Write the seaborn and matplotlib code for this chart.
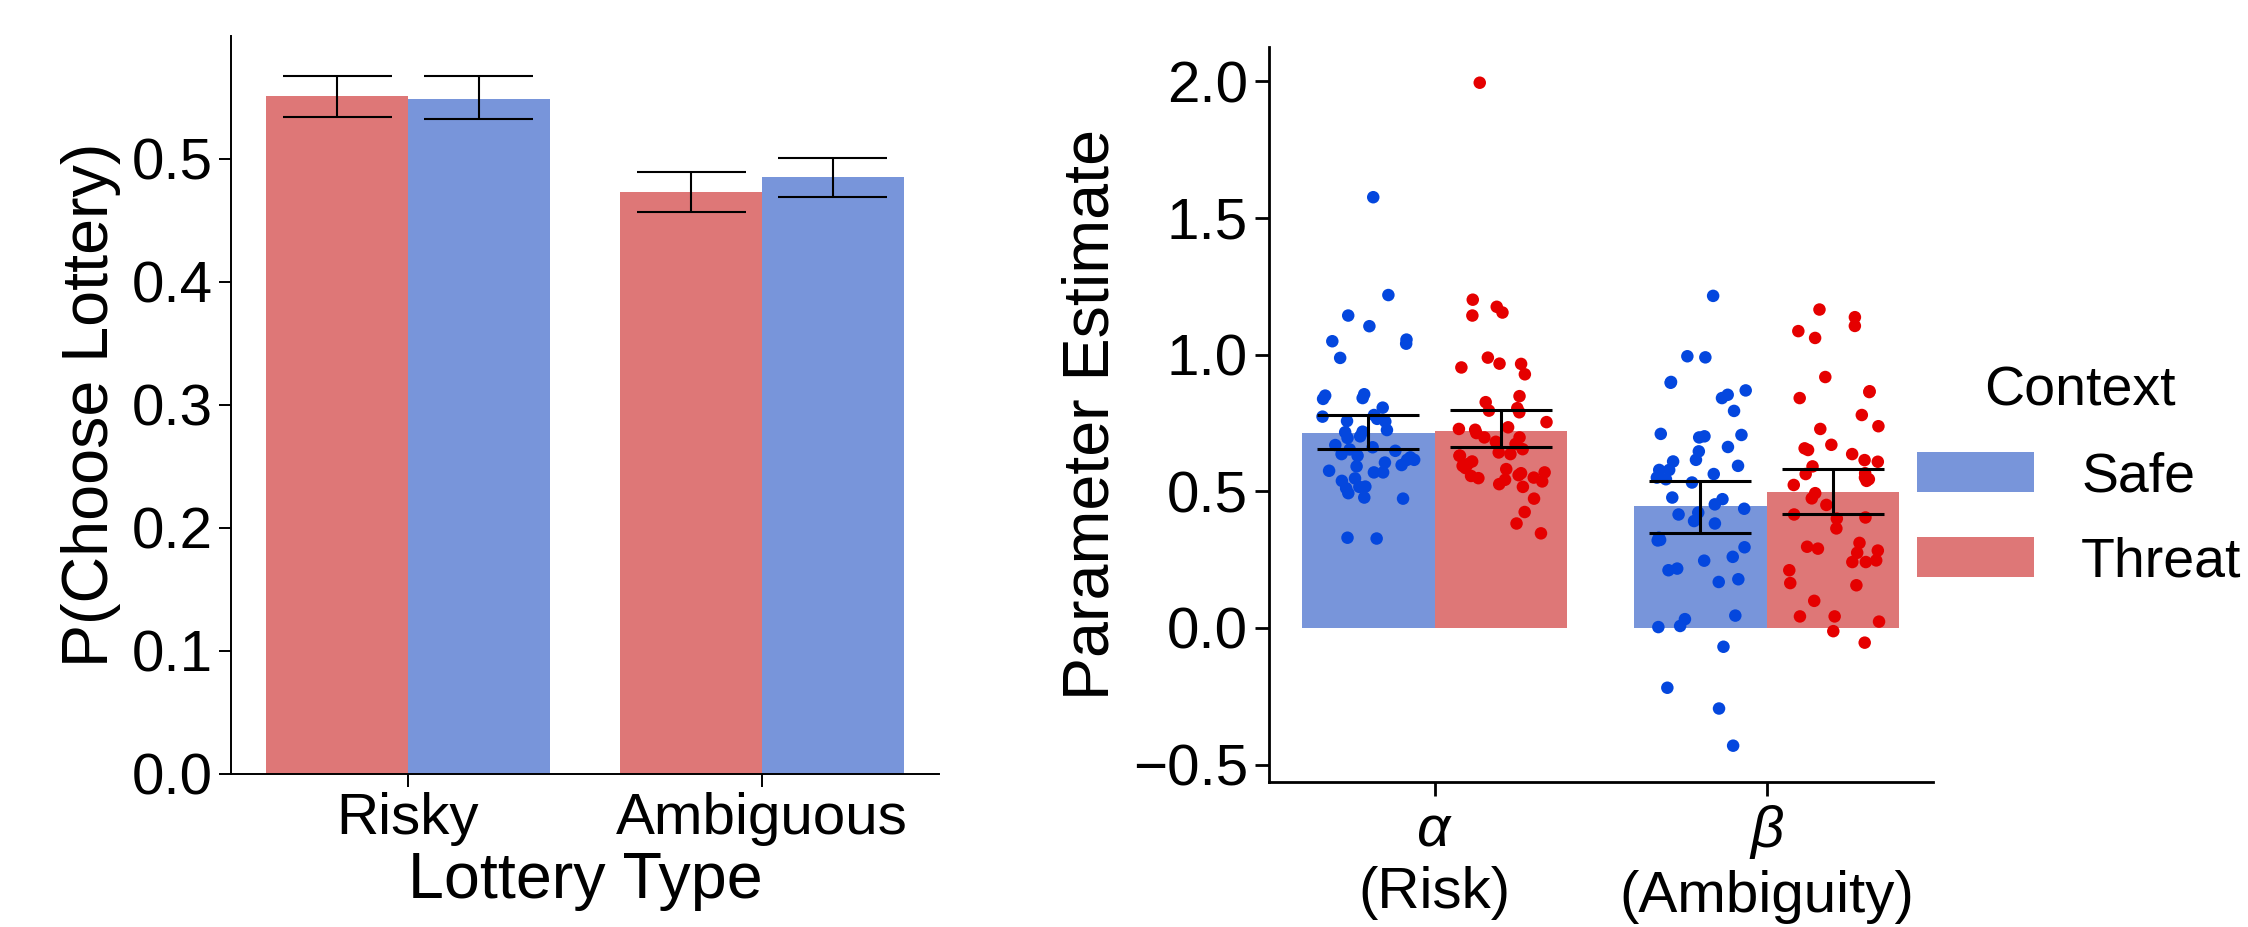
import numpy as np
import pandas as pd
import seaborn as sns
import matplotlib.pyplot as plt

# left panel: P(choose lottery) by lottery type and context
lottery_types = ["Risky", "Ambiguous"]
left_contexts = ["Threat", "Safe"]
choice_mean = {"Threat": [0.551, 0.473], "Safe": [0.549, 0.485]}
choice_lo = {"Threat": [0.534, 0.457], "Safe": [0.532, 0.469]}
choice_hi = {"Threat": [0.567, 0.489], "Safe": [0.567, 0.501]}

# right panel: parameter estimates
params = ["alpha", "beta"]
param_labels = ["$\\alpha$\n(Risk)", "$\\beta$\n(Ambiguity)"]
right_contexts = ["Safe", "Threat"]
param_mean = {"Safe": [0.713, 0.447], "Threat": [0.721, 0.496]}
param_lo = {"Safe": [0.653, 0.349], "Threat": [0.661, 0.418]}
param_hi = {"Safe": [0.780, 0.538], "Threat": [0.799, 0.581]}

alpha_safe_pts = [1.576, 1.218, 1.143, 1.104, 1.040, 1.055, 1.049, 0.988,
                  0.850, 0.841, 0.838, 0.855, 0.806, 0.757, 0.755, 0.765, 0.773, 0.779,
                  0.716, 0.701, 0.695, 0.724, 0.718, 0.669, 0.661, 0.648, 0.653, 0.636,
                  0.630, 0.624, 0.615, 0.605, 0.615, 0.596, 0.591, 0.575, 0.569, 0.569,
                  0.547, 0.538, 0.516, 0.517, 0.511, 0.493, 0.477, 0.473, 0.327, 0.330]
alpha_threat_pts = [1.995, 1.175, 1.201, 1.143, 1.154, 0.953, 0.967, 0.989, 0.966, 0.928,
                    0.848, 0.789, 0.795, 0.804, 0.826, 0.734, 0.697, 0.681, 0.728, 0.713,
                    0.753, 0.725, 0.697, 0.673, 0.654, 0.642, 0.636, 0.630, 0.630, 0.609,
                    0.599, 0.593, 0.585, 0.581, 0.556, 0.569, 0.559, 0.542, 0.566, 0.548,
                    0.536, 0.550, 0.516, 0.526, 0.473, 0.424, 0.382, 0.346]
beta_safe_pts = [1.215, 0.994, 0.990, 0.900, 0.897, 0.841, 0.853, 0.869, 0.794, 0.701,
                 0.710, 0.697, 0.706, 0.662, 0.646, 0.615, 0.609, 0.578, 0.578, 0.593,
                 0.563, 0.544, 0.532, 0.550, 0.477, 0.471, 0.452, 0.422, 0.415, 0.382,
                 0.436, 0.391, 0.330, 0.320, 0.322, 0.295, 0.246, 0.260, 0.211, 0.217,
                 0.168, 0.178, 0.032, 0.003, 0.045, 0.007, -0.069, -0.219, -0.295, -0.431]
beta_threat_pts = [1.137, 1.165, 1.105, 1.086, 1.061, 0.918, 0.863, 0.841, 0.866, 0.779,
                   0.738, 0.728, 0.657, 0.651, 0.614, 0.608, 0.636, 0.670, 0.591, 0.566,
                   0.544, 0.523, 0.563, 0.550, 0.538, 0.493, 0.474, 0.450, 0.400, 0.415,
                   0.404, 0.364, 0.311, 0.297, 0.283, 0.275, 0.290, 0.247, 0.241, 0.241,
                   0.211, 0.164, 0.156, 0.099, 0.042, 0.042, 0.023, -0.012, -0.054]

bar_colors = {"Safe": "#7895DA", "Threat": "#DE7777"}
point_colors = {"Safe": "#0447DE", "Threat": "#E50000"}

sns.set_style("ticks")
plt.rcParams['font.family'] = ['Liberation Sans', 'DejaVu Sans']
plt.rcParams['mathtext.fontset'] = 'custom'
plt.rcParams['mathtext.it'] = 'Liberation Sans:italic'
plt.rcParams['mathtext.rm'] = 'Liberation Sans'
for k in ['text.color', 'axes.labelcolor', 'xtick.color', 'ytick.color', 'axes.edgecolor']:
    plt.rcParams[k] = 'black'

fig = plt.figure(figsize=(22.48, 9.27), dpi=100)
ax1 = fig.add_axes([0.1027, 0.1654, 0.315, 0.796])
ax2 = fig.add_axes([0.5644, 0.1561, 0.2953, 0.793])

# ---- left panel
df_left = pd.DataFrame({
    "Lottery Type": lottery_types * 2,
    "Context": [c for c in left_contexts for _ in lottery_types],
    "P": choice_mean["Threat"] + choice_mean["Safe"],
})
sns.barplot(data=df_left, x="Lottery Type", y="P", hue="Context", order=lottery_types,
            hue_order=left_contexts, palette=bar_colors, saturation=1, errorbar=None,
            width=0.8, linewidth=0, legend=False, ax=ax1)
for cont, level in zip(ax1.containers, left_contexts):
    for bar, lo, hi in zip(cont, choice_lo[level], choice_hi[level]):
        cx = bar.get_x() + bar.get_width() / 2
        cw = bar.get_width() * 0.77
        ax1.vlines(cx, lo, hi, color="black", lw=1.5, zorder=4)
        ax1.hlines([lo, hi], cx - cw / 2, cx + cw / 2, color="black", lw=1.5, zorder=4)

ax1.set_ylim(0, 0.6)
ax1.set_xlim(-0.5, 1.5)
ax1.set_yticks([0.0, 0.1, 0.2, 0.3, 0.4, 0.5])
ax1.set_yticklabels(["0.0", "0.1", "0.2", "0.3", "0.4", "0.5"])
ax1.set_xlabel("Lottery Type", fontsize=46.5, labelpad=4)
ax1.set_ylabel("P(Choose Lottery)", fontsize=46.5, labelpad=8)
ax1.tick_params(labelsize=42, length=9, width=1.4, pad=4)
for s in ["left", "bottom"]:
    ax1.spines[s].set_linewidth(1.4)
sns.despine(ax=ax1)

# ---- right panel
df_right = pd.DataFrame({
    "Parameter": params * 2,
    "Context": [c for c in right_contexts for _ in params],
    "Estimate": param_mean["Safe"] + param_mean["Threat"],
})
pts = pd.concat([
    pd.DataFrame({"Parameter": "alpha", "Context": "Safe", "Estimate": alpha_safe_pts}),
    pd.DataFrame({"Parameter": "alpha", "Context": "Threat", "Estimate": alpha_threat_pts}),
    pd.DataFrame({"Parameter": "beta", "Context": "Safe", "Estimate": beta_safe_pts}),
    pd.DataFrame({"Parameter": "beta", "Context": "Threat", "Estimate": beta_threat_pts}),
])

sns.barplot(data=df_right, x="Parameter", y="Estimate", hue="Context", order=params,
            hue_order=right_contexts, palette=bar_colors, saturation=1, errorbar=None,
            width=0.8, linewidth=0, ax=ax2)
np.random.seed(3)
sns.stripplot(data=pts, x="Parameter", y="Estimate", hue="Context", order=params,
              hue_order=right_contexts, palette=point_colors, dodge=True, jitter=0.29,
              size=9, linewidth=0, legend=False, ax=ax2)
for cont, level in zip(ax2.containers, right_contexts):
    for bar, lo, hi in zip(cont, param_lo[level], param_hi[level]):
        cx = bar.get_x() + bar.get_width() / 2
        cw = bar.get_width() * 0.77
        ax2.vlines(cx, lo, hi, color="black", lw=2.2, zorder=4)
        ax2.hlines([lo, hi], cx - cw / 2, cx + cw / 2, color="black", lw=2.2, zorder=4)

ax2.set_ylim(-0.565, 2.125)
ax2.set_xlim(-0.5, 1.5)
ax2.set_yticks([-0.5, 0.0, 0.5, 1.0, 1.5, 2.0])
ax2.set_xticks(range(len(params)))
ax2.set_xticklabels(param_labels)
ax2.set_xlabel("")
ax2.set_ylabel("Parameter Estimate", fontsize=46.5, labelpad=8)
ax2.tick_params(labelsize=42, length=10, width=2, pad=5)
for s in ["left", "bottom"]:
    ax2.spines[s].set_linewidth(2)
sns.despine(ax=ax2)

sns.move_legend(ax2, "center left", bbox_to_anchor=(0.977, 0.415), title="Context",
                frameon=False, fontsize=40, title_fontsize=40, handlelength=2.1,
                handleheight=0.73, handletextpad=0.85, labelspacing=0.6, borderpad=0,
                borderaxespad=0)

fig.savefig("out.png", dpi=100)
